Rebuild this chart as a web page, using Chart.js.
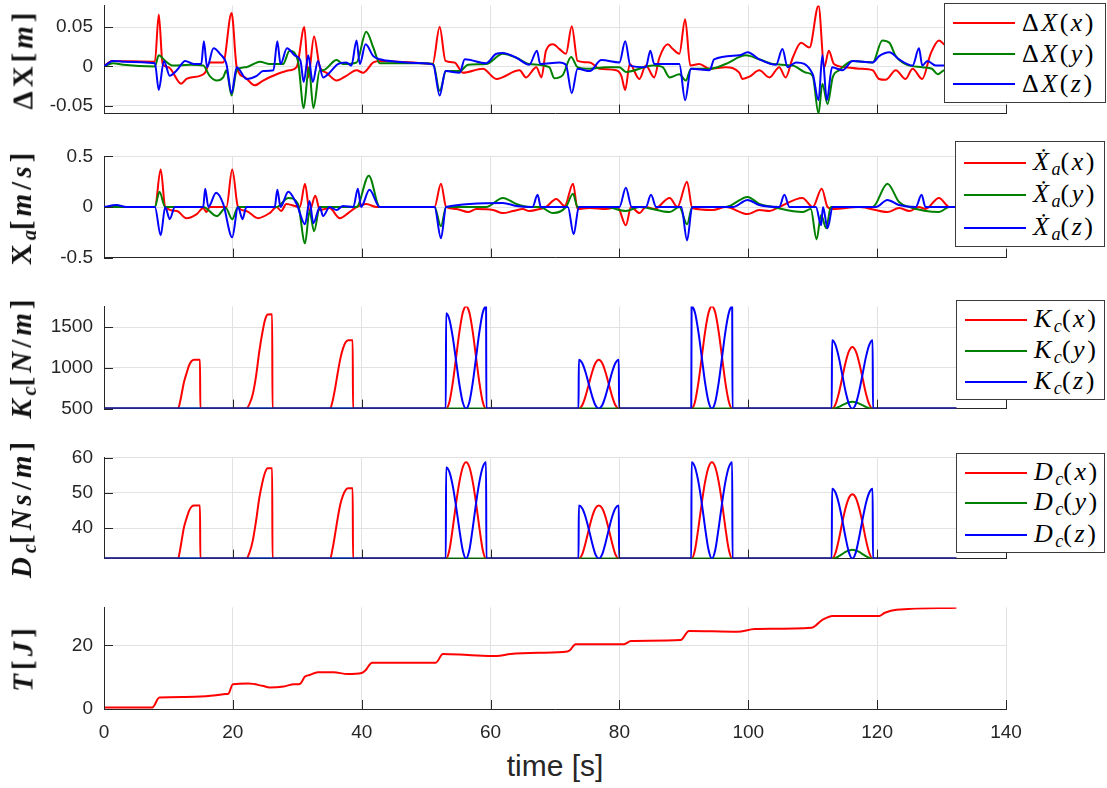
<!DOCTYPE html>
<html>
<head>
<meta charset="utf-8">
<title>Adaptive impedance run</title>
<script src="https://cdn.jsdelivr.net/npm/chart.js@4"></script>
<style>
  body { margin: 0; background: #fff; width: 1107px; height: 788px; position: relative; overflow: hidden;
         font-family: "Liberation Sans", Arial, sans-serif; color: #262626; }
  .panel { position: absolute; left: 0; width: 1107px; }
  .ylab { position: absolute; left: 23px; transform: translate(-50%, -50%) rotate(-90deg); white-space: nowrap;
          font-family: "Liberation Serif", serif; font-weight: bold; font-size: 29px; letter-spacing: 4px; color: #111; }
  .legend { position: absolute; background: #fff; border: 1px solid #3a3a3a; box-sizing: border-box; }
  .legend .row { position: absolute; left: 8px; height: 30px; display: flex; align-items: center; }
  .legend .sw { width: 62px; height: 2px; }
  .legend .tx { margin-left: 7px; font-family: "Liberation Serif", serif; font-size: 26px; letter-spacing: 2.5px; color: #000; white-space: nowrap; }
  sub { font-size: 0.7em; vertical-align: -0.25em; letter-spacing: 0; }
  #xtitle { position: absolute; left: 555px; top: 751px; transform: translateX(-50%); font-size: 30px; line-height: 30px; color: #262626; }
</style>
</head>
<body>
<div id="xtitle">time [s]</div>
<script>
// shared time axis
const xTicks = [0, 20, 40, 60, 80, 100, 120, 140];

// ---- panel 1: position error dX [m] ----
const dxRed = [[0,0],[1.2,0.007],[7.9,0.006],[8.5,0.066],[9.1,0.003],[10,-0.001],[12,-0.022],[12.8,-0.016],[14.9,-0.012],[15.7,-0.008],
  [16.4,0.005],[18.5,0.005],[19.8,0.068],[20.6,-0.001],[21.9,-0.014],[23.4,-0.024],[24.7,-0.018],[26.8,-0.010],[28.8,-0.005],[29.9,-0.001],
  [31.1,0.050],[31.7,-0.014],[32.6,0.038],[33.5,-0.001],[34.5,-0.008],[36.1,-0.018],[37.6,-0.012],[39.2,-0.005],[40.2,-0.008],[41.8,0.005],
  [42.8,0.007],[49.5,0.004],[51,0.003],[52.1,0.050],[53,0.007],[54.4,0.005],[55.7,-0.008],[58.8,-0.003],[60.9,-0.016],[64.5,-0.005],
  [65.5,-0.014],[67.1,-0.001],[67.9,-0.014],[68.6,0.020],[69.7,0.028],[70.7,0.022],[71.7,0.016],[72.6,0.051],[73.5,0.007],[75.4,0.005],
  [76.9,-0.003],[79.5,-0.005],[80.3,-0.012],[80.9,-0.030],[81.6,0.003],[83.1,-0.016],[84.1,0.001],[85.4,-0.014],[86.2,0.011],[87.5,0.028],
  [88.3,0.022],[89.3,0.016],[90.2,0.060],[91,0.001],[92.4,0.003],[94,-0.003],[96.5,-0.001],[98.6,-0.008],[99.1,-0.016],[100.2,-0.013],
  [101.7,-0.005],[103.3,-0.014],[104.8,-0.001],[105.8,-0.014],[106.9,0.011],[108.2,0.030],[109.5,0.024],[110.9,0.077],[111.8,-0.001],
  [112.5,0.020],[113.3,0.003],[115.1,-0.001],[117.2,-0.003],[119.3,-0.005],[120.3,-0.016],[121.3,-0.017],[122.9,-0.005],[124.4,-0.016],
  [125.5,-0.003],[127,-0.016],[128.3,0.016],[129.6,0.033],[130.4,0.028],[131.3,0.024],[132.3,0.030]];
const dxGreen = [[0,0],[1.4,0.004],[3,0.002],[7.9,0],[8.5,0.014],[9.5,0.007],[10.7,0.001],[13.3,0.002],[15.4,0.001],[16.4,-0.012],
  [17.5,-0.018],[18.5,-0.014],[19,-0.005],[19.8,-0.037],[20.6,-0.005],[22.1,-0.001],[24.2,0.006],[25.7,0.003],[27.8,0.003],[28.8,0.020],
  [30.1,0.007],[31,-0.053],[31.8,-0.001],[32.5,-0.053],[33.5,-0.005],[34,-0.005],[36.1,0.008],[37.1,0.003],[39.2,0.005],[40.7,0.044],
  [41.8,0.024],[42.8,0.004],[49.5,0.004],[51.1,0.003],[52.1,-0.031],[53.1,-0.006],[55.2,-0.006],[56.5,0.002],[59.3,0.003],[61.9,0.016],
  [64,0.011],[66,0.003],[69.1,-0.001],[69.9,-0.015],[71.2,-0.011],[72.5,0.012],[73.5,-0.001],[75.4,-0.003],[77.9,-0.001],[80,-0.001],
  [81,-0.007],[85.2,0.001],[86.7,-0.001],[87.8,-0.014],[89.3,-0.010],[90.3,-0.018],[91.1,-0.003],[94,-0.003],[96.5,0.003],[99.6,0.014],
  [101.7,0.009],[103.8,0.003],[106.9,0.001],[109,-0.008],[110,-0.012],[110.9,-0.060],[111.5,-0.022],[112.3,-0.048],[113.1,-0.014],
  [114.1,-0.005],[116.2,0.007],[119.3,0.005],[120.8,0.033],[121.9,0.030],[122.9,0.013],[124.4,0.003],[127,-0.001],[128.5,-0.003],
  [129.4,-0.010],[130.4,-0.005],[132.3,-0.004]];
const dxBlue = [[0,0],[1.4,0.007],[3,0.006],[7.9,0.004],[8.5,-0.030],[9.3,0.007],[10.2,-0.012],[11.3,-0.005],[12.6,0.007],[13.9,0.003],
  [15.1,0.003],[15.5,0.032],[16,-0.001],[17,0.023],[18,0.016],[19,0.003],[19.8,-0.034],[20.6,-0.001],[22.1,-0.016],[23.7,-0.012],
  [24.7,-0.006],[26.3,-0.005],[26.9,0.032],[27.4,0.003],[28.4,0.023],[29.6,0.014],[30.5,0.007],[31,-0.020],[31.7,0.014],[32.4,-0.020],
  [33.2,0.007],[34,-0.014],[35,-0.008],[36.3,0.003],[37.6,0.005],[38.4,0.001],[39.2,0.033],[39.7,0.003],[40.6,0.028],[41.8,0.013],
  [42.8,0.009],[45.4,0.006],[49.5,0.004],[51.1,0.002],[52.1,-0.037],[53,-0.006],[55.2,-0.008],[56,0.009],[59.3,0.004],[60.9,0.016],
  [61.9,0.017],[64,0.011],[66,0.002],[67.2,0.020],[67.7,0.003],[70.7,0.005],[71.7,0.002],[72.6,-0.034],[73.5,-0.003],[75.4,-0.006],
  [77.2,0.008],[80,0.005],[80.9,0.032],[81.7,0.001],[84.1,-0.001],[84.8,0.020],[85.4,0.003],[89.3,0.003],[90.2,-0.043],[91.1,-0.003],
  [94,-0.005],[94.7,0.009],[98.6,0.014],[99.9,0.018],[101.7,0.009],[104.3,0.002],[105.3,0.022],[106.1,-0.001],[107.4,0.005],[110,-0.010],
  [110.9,-0.043],[111.5,0.014],[112.2,-0.043],[113,-0.001],[114.6,-0.005],[116.2,0.007],[119.3,0.005],[120.3,0.013],[121.9,0.018],
  [123.4,0.009],[125.5,0.001],[126.5,0.023],[127,0.001],[127.8,0.007],[129.1,0.001],[130.4,0.001],[132.3,0.002]];
const dxTicks = [-0.05, 0, 0.05];
const dxLabels = ['-0.05', '0', '0.05'];

// ---- panel 2: velocity Xa [m/s] ----
const vaRed = [[0,0],[7.9,0],[8.8,0.37],[9.5,0],[11.3,-0.04],[12.8,-0.11],[14.4,-0.07],[15.4,-0.01],[15.9,-0.05],[16.4,0],[19,0],
  [19.9,0.37],[20.8,0],[22.1,-0.04],[23.9,-0.11],[25.7,-0.06],[26.8,0],[27.5,-0.04],[28.3,0.03],[30.4,0],[31.2,0.23],[31.9,-0.04],
  [32.8,0.11],[33.5,-0.03],[35,-0.01],[36.6,-0.11],[37.9,-0.06],[39.2,0],[40.7,0.03],[42.3,0],[51.3,0],[52.3,0.23],[53.1,0],[54.7,-0.02],
  [56.5,-0.05],[57.8,-0.02],[60.4,-0.03],[61.9,-0.06],[63.5,-0.04],[65,-0.02],[66,-0.04],[67.6,-0.02],[68.6,0],[70.2,0.08],[71.5,0.01],
  [72.8,0.23],[73.5,-0.02],[75.4,-0.01],[77.9,-0.02],[79.7,0],[81,-0.18],[81.8,0],[83.1,-0.06],[84.1,0],[85.4,-0.02],[87.8,0.09],[89,0],
  [90.5,0.25],[91.3,-0.01],[94.5,-0.03],[96.5,0],[99.9,-0.07],[101.7,-0.03],[103.3,-0.04],[104.8,0],[108.4,0.09],[110,0],[111.4,0.18],
  [112.3,0],[113.1,-0.02],[117.2,0],[121.6,-0.05],[123.4,-0.01],[125,-0.04],[126.5,0],[127.5,-0.02],[129.6,0.09],[131.2,0],[132.3,0]];
const vaGreen = [[0,0],[7.9,0],[8.6,0.15],[9.5,0],[15.4,0],[17.5,-0.09],[18.9,-0.01],[19.9,-0.12],[20.8,0],[26.8,0],[28.6,0.09],
  [30.1,0.03],[31.2,-0.36],[31.9,-0.04],[32.6,-0.24],[33.5,0],[39.2,0],[41.1,0.31],[42.8,0],[51.3,0],[52.3,-0.19],[53.1,0],[59.3,0],
  [61.9,0.09],[64,0.03],[66,0],[67.6,0],[69.7,-0.06],[71.7,0],[72.8,0.13],[73.5,0],[77.9,0],[81,-0.04],[83.1,0],[87.8,-0.05],[89.3,0],
  [90.5,-0.17],[91.3,0],[96.5,0],[99.9,0.10],[101.7,0.03],[103.8,0],[108.4,-0.05],[109.7,-0.02],[110.6,-0.32],[111.3,-0.08],[112.1,-0.21],
  [112.8,0],[119.3,0],[121.6,0.23],[123.4,0.05],[125,0],[129.6,-0.05],[131.2,0],[132.3,0]];
const vaBlue = [[0,0],[1.9,0.02],[3.5,0],[7.9,0],[8.8,-0.28],[9.5,0],[10.2,-0.12],[11,0],[15.4,0],[15.7,0.18],[16.2,0],[17.4,0.14],
  [18.5,0.03],[19.9,-0.30],[20.8,0],[21.5,-0.12],[22.1,0],[26.5,0],[26.9,0.17],[27.4,0],[28.6,0.15],[29.9,0.03],[31.2,-0.17],[31.9,0.06],
  [32.5,-0.16],[33.5,0],[34,-0.09],[35,0],[36.1,-0.03],[37.1,0.01],[38.7,0],[39.4,0.18],[39.9,0],[41.2,0.17],[42.8,0],[51.3,0],[52.3,-0.31],
  [53.1,0],[61.9,0.04],[64,0.01],[66.5,0],[67.3,0.12],[67.8,0],[72,0],[72.9,-0.27],[73.7,0],[80,0],[81,0.19],[81.9,0],[84.1,0],[84.9,0.12],
  [85.7,0],[89.6,0],[90.5,-0.33],[91.3,0],[97.6,0],[99.9,0.07],[101.7,0.02],[104.8,0],[105.6,0.12],[106.4,0],[110.5,0],[111.3,-0.18],
  [111.6,0],[112.3,-0.21],[113.1,0],[119.8,0],[121.6,0.07],[123.4,0.02],[126,0],[126.9,0.12],[127.5,0],[132.3,0]];
const vaTicks = [-0.5, 0, 0.5];
const vaLabels = ['-0.5', '0', '0.5'];

// ---- panel 3: stiffness Kc [N/m] ----
const kcRed = [[0,500],[11.5,500],[11.8,580],[12.1,700],[12.4,820],[12.8,930],[13.2,1030],[13.6,1085],[14,1100],[14.9,1100],[14.95,500],
  [22.1,500],[22.6,560],[23.1,680],[23.6,900],[24.1,1200],[24.6,1440],[25,1590],[25.4,1655],[26.1,1660],[26.15,500],
  [35.1,500],[35.5,600],[35.9,760],[36.3,950],[36.7,1120],[37.1,1240],[37.5,1315],[37.9,1340],[38.6,1340],[38.65,500],
  [53.1,500],[53.62,584],[54.13,815],[54.65,1130],[55.17,1445],[55.68,1676],[56.2,1760],[56.72,1676],[57.23,1445],[57.75,1130],[58.27,815],[58.78,584],[59.3,500],
  [73.7,500],[74.22,540],[74.73,650],[75.25,800],[75.77,950],[76.28,1060],[76.8,1100],[77.32,1060],[77.83,950],[78.35,800],[78.87,650],[79.38,540],[79.9,500],
  [91.2,500],[91.73,584],[92.25,815],[92.78,1130],[93.3,1445],[93.83,1676],[94.35,1760],[94.88,1676],[95.4,1445],[95.93,1130],[96.45,815],[96.98,584],[97.5,500],
  [113,500],[113.53,551],[114.05,689],[114.58,878],[115.1,1067],[115.63,1205],[116.15,1256],[116.68,1205],[117.2,1067],[117.73,878],[118.25,689],[118.78,551],[119.3,500],
  [132.3,500]];
const kcGreen = [[0,500],[113,500],[113.53,506],[114.05,521],[114.58,542],[115.1,562],[115.63,577],[116.15,583],[116.68,577],[117.2,562],
  [117.73,542],[118.25,521],[118.78,506],[119.3,500],[132.3,500]];
const kcBlue = [[0,500],[53.05,500],[53.1,1670],[53.62,1592],[54.13,1378],[54.65,1085],[55.17,793],[55.68,578],[56.2,500],[56.72,584],
  [57.23,815],[57.75,1130],[58.27,1445],[58.78,1676],[59.3,1760],[59.35,500],
  [73.65,500],[73.7,1100],[74.22,1060],[74.73,950],[75.25,800],[75.77,650],[76.28,540],[76.8,500],[77.32,540],[77.83,650],[78.35,800],
  [78.87,950],[79.38,1060],[79.9,1100],[79.95,500],
  [91.15,500],[91.2,1760],[91.73,1676],[92.25,1445],[92.78,1130],[93.3,815],[93.83,584],[94.35,500],[94.88,584],[95.4,815],[95.93,1130],
  [96.45,1445],[96.98,1676],[97.5,1760],[97.55,500],
  [112.95,500],[113,1338],[113.53,1282],[114.05,1129],[114.58,919],[115.1,710],[115.63,556],[116.15,500],[116.68,556],[117.2,710],
  [117.73,919],[118.25,1129],[118.78,1282],[119.3,1338],[119.35,500],[132.3,500]];
const kcTicks = [500, 1000, 1500];
const kcLabels = ['500', '1000', '1500'];

// ---- panel 4: damping Dc [Ns/m] ----
const dcRed = [[0,31.3],[11.5,31.3],[11.8,33.7],[12.1,37.0],[12.4,40.1],[12.8,42.7],[13.2,44.9],[13.6,46.1],[14,46.4],[14.9,46.4],[14.95,31.3],
  [22.1,31.3],[22.6,33.1],[23.1,36.5],[23.6,42.0],[24.1,48.5],[24.6,53.1],[25,55.8],[25.4,57.0],[26.1,57.0],[26.15,31.3],
  [35.1,31.3],[35.5,34.3],[35.9,38.6],[36.3,43.1],[36.7,46.9],[37.1,49.3],[37.5,50.8],[37.9,51.3],[38.6,51.3],[38.65,31.3],
  [53.1,31.3],[53.62,33.8],[54.13,40.0],[54.65,47.1],[55.17,53.2],[55.68,57.3],[56.2,58.7],[56.72,57.3],[57.23,53.2],[57.75,47.1],[58.27,40.0],[58.78,33.8],[59.3,31.3],
  [73.7,31.3],[74.22,32.5],[74.73,35.7],[75.25,39.6],[75.77,43.2],[76.28,45.6],[76.8,46.4],[77.32,45.6],[77.83,43.2],[78.35,39.6],[78.87,35.7],[79.38,32.5],[79.9,31.3],
  [91.2,31.3],[91.73,33.8],[92.25,40.0],[92.78,47.1],[93.3,53.2],[93.83,57.3],[94.35,58.7],[94.88,57.3],[95.4,53.2],[95.93,47.1],[96.45,40.0],[96.98,33.8],[97.5,31.3],
  [113,31.3],[113.53,32.9],[114.05,36.7],[114.58,41.5],[115.1,45.7],[115.63,48.6],[116.15,49.6],[116.68,48.6],[117.2,45.7],[117.73,41.5],[118.25,36.7],[118.78,32.9],[119.3,31.3],
  [132.3,31.3]];
const dcGreen = [[0,31.3],[113,31.3],[113.53,31.5],[114.05,32.0],[114.58,32.6],[115.1,33.2],[115.63,33.6],[116.15,33.8],[116.68,33.6],
  [117.2,33.2],[117.73,32.6],[118.25,32.0],[118.78,31.5],[119.3,31.3],[132.3,31.3]];
const dcBlue = [[0,31.3],[53.05,31.3],[53.1,57.2],[53.62,55.9],[54.13,52.0],[54.65,46.1],[55.17,39.4],[55.68,33.7],[56.2,31.3],[56.72,33.8],
  [57.23,40.0],[57.75,47.1],[58.27,53.2],[58.78,57.3],[59.3,58.7],[59.35,31.3],
  [73.65,31.3],[73.7,46.4],[74.22,45.6],[74.73,43.2],[75.25,39.6],[75.77,35.7],[76.28,32.5],[76.8,31.3],[77.32,32.5],[77.83,35.7],[78.35,39.6],
  [78.87,43.2],[79.38,45.6],[79.9,46.4],[79.95,31.3],
  [91.15,31.3],[91.2,58.7],[91.73,57.3],[92.25,53.2],[92.78,47.1],[93.3,40.0],[93.83,33.8],[94.35,31.3],[94.88,33.8],[95.4,40.0],[95.93,47.1],
  [96.45,53.2],[96.98,57.3],[97.5,58.7],[97.55,31.3],
  [112.95,31.3],[113,51.2],[113.53,50.1],[114.05,47.0],[114.58,42.4],[115.1,37.3],[115.63,33.0],[116.15,31.3],[116.68,33.0],[117.2,37.3],
  [117.73,42.4],[118.25,47.0],[118.78,50.1],[119.3,51.2],[119.35,31.3],[132.3,31.3]];
const dcTicks = [40, 50, 60];
const dcLabels = ['40', '50', '60'];

// ---- panel 5: energy T [J] ----
const energy = [[0,0.5],[7.5,0.5],[8.6,3.6],[12.5,3.75],[15.8,4.0],[17.4,4.3],[18.9,4.7],[19.3,4.8],[20,7.8],[22.4,8.0],[24.6,7.3],
  [25.7,6.8],[27.9,7.1],[29.5,7.8],[30.4,7.9],[31.2,10.2],[31.9,10.7],[33.2,11.6],[35.6,11.6],[37.8,11.0],[40,11.35],[40.6,12.2],
  [41.6,14.6],[51.5,14.6],[52.6,17.3],[56.5,17.0],[60.9,16.7],[63.1,17.3],[67.5,17.7],[71.9,18.1],[72.3,18.5],[73.2,20.4],[80.7,20.4],
  [81.8,21.4],[89.5,21.7],[90.8,24.6],[98.3,24.3],[101,25.2],[109.8,25.6],[111.5,28.1],[113.1,29.3],[120.3,29.3],[121.2,30.3],
  [123,31.25],[132.3,31.9]];
const enTicks = [0, 20];
const enLabels = ['0', '20'];

const RED = '#ff0000', GREEN = '#008000', BLUE = '#0000ff';
const axisColor = '#262626', gridColor = '#e2e2e2';
const tickFont = { family: '"Liberation Sans", Arial, sans-serif', size: 19 };

const panels = [
  { top: 5,   h: 108, min: -0.06, max: 0.0775, ticks: dxTicks, labels: dxLabels, series: [dxRed, dxGreen, dxBlue],
    ylab: 'ΔX[<i>m</i>]', legend: ['Δ<i>X</i>(<i>x</i>)', 'Δ<i>X</i>(<i>y</i>)', 'Δ<i>X</i>(<i>z</i>)'],
    box: { left: 944, top: 3, w: 162, h: 100, rows: [19, 50, 80] } },
  { top: 156, h: 101, min: -0.5, max: 0.5, ticks: vaTicks, labels: vaLabels, series: [vaRed, vaGreen, vaBlue],
    ylab: 'X<sub><i>a</i></sub>[<i>m</i>/<i>s</i>]',
    legend: ['<i>Ẋ</i><sub><i>a</i></sub>(<i>x</i>)', '<i>Ẋ</i><sub><i>a</i></sub>(<i>y</i>)', '<i>Ẋ</i><sub><i>a</i></sub>(<i>z</i>)'],
    box: { left: 955, top: 141, w: 150, h: 106, rows: [21, 53, 86] } },
  { top: 306, h: 102, min: 500, max: 1755, ticks: kcTicks, labels: kcLabels, series: [kcRed, kcGreen, kcBlue],
    ylab: '<i>K</i><sub><i>c</i></sub>[<i>N</i>/<i>m</i>]',
    legend: ['<i>K</i><sub><i>c</i></sub>(<i>x</i>)', '<i>K</i><sub><i>c</i></sub>(<i>y</i>)', '<i>K</i><sub><i>c</i></sub>(<i>z</i>)'],
    box: { left: 956, top: 300, w: 149, h: 100, rows: [19, 50, 81] } },
  { top: 457, h: 101, min: 31.3, max: 60.1, ticks: dcTicks, labels: dcLabels, series: [dcRed, dcGreen, dcBlue],
    ylab: '<i>D</i><sub><i>c</i></sub>[<i>N</i><i>s</i>/<i>m</i>]',
    legend: ['<i>D</i><sub><i>c</i></sub>(<i>x</i>)', '<i>D</i><sub><i>c</i></sub>(<i>y</i>)', '<i>D</i><sub><i>c</i></sub>(<i>z</i>)'],
    box: { left: 956, top: 453, w: 149, h: 100, rows: [19, 49, 81] } },
  { top: 607, h: 102, min: 0, max: 32, ticks: enTicks, labels: enLabels, series: [energy],
    ylab: '<i>T</i>[<i>J</i>]', legend: null, last: true }
];

// MATLAB-style tick marks pointing into the axes
const innerTicks = {
  id: 'innerTicks',
  afterDatasetsDraw(chart) {
    const { ctx, chartArea: a, scales: { x, y } } = chart;
    ctx.save();
    ctx.strokeStyle = axisColor;
    ctx.lineWidth = 1;
    ctx.beginPath();
    y.ticks.forEach(t => {
      const py = Math.round(y.getPixelForValue(t.value)) + 0.5;
      ctx.moveTo(a.left, py); ctx.lineTo(a.left + 9, py);
    });
    x.ticks.forEach(t => {
      const px = Math.round(x.getPixelForValue(t.value)) + 0.5;
      ctx.moveTo(px, a.bottom); ctx.lineTo(px, a.bottom - 9);
    });
    ctx.stroke();
    ctx.restore();
  }
};

const colors = [RED, GREEN, BLUE];

function chartConfig(p, xHeight) {
  return {
    type: 'line',
    data: {
      datasets: p.series.map((s, i) => ({
        data: s.map(([x, y]) => ({ x, y })),
        borderColor: colors[i], borderWidth: 2, pointRadius: 0, fill: false,
        cubicInterpolationMode: 'monotone', order: 3 - i
      }))
    },
    options: {
      responsive: false, animation: false, events: [],
      layout: { padding: { top: 0, bottom: 0, left: 0, right: 1107 - 1006 } },
      plugins: { legend: { display: false }, tooltip: { enabled: false } },
      scales: {
        x: {
          type: 'linear', min: 0, max: 140,
          afterBuildTicks: s => { s.ticks = xTicks.map(v => ({ value: v })); },
          afterFit: s => { s.height = xHeight; },
          grid: { color: gridColor, drawTicks: false },
          border: { display: true, color: axisColor, width: 1 },
          ticks: { display: !!p.last, padding: 12, font: tickFont, color: axisColor, maxRotation: 0, autoSkip: false,
                   callback: v => String(v) }
        },
        y: {
          type: 'linear', min: p.min, max: p.max,
          afterBuildTicks: s => { s.ticks = p.ticks.map(v => ({ value: v })); },
          afterFit: s => { s.width = 104; },
          grid: { color: gridColor, drawTicks: false },
          border: { display: true, color: axisColor, width: 1 },
          ticks: { padding: 11, font: tickFont, color: axisColor, callback: v => p.labels[p.ticks.indexOf(v)] }
        }
      }
    },
    plugins: [innerTicks]
  };
}

panels.forEach(p => {
  const xHeight = p.last ? 79 : 0;
  const div = document.createElement('div');
  div.className = 'panel';
  document.body.appendChild(div);

  // first pass: find how much room the library keeps above and below the plot area
  let cv = document.createElement('canvas');
  cv.width = 1107; cv.height = 300;
  div.appendChild(cv);
  let ch = new Chart(cv, chartConfig(p, xHeight));
  const above = ch.chartArea.top, below = 300 - ch.chartArea.bottom;
  ch.destroy();
  div.removeChild(cv);

  // second pass: size the canvas so the plot area lands where it should
  const H = Math.round(above + p.h + below);
  div.style.top = Math.round(p.top - above) + 'px';
  div.style.height = H + 'px';
  cv = document.createElement('canvas');
  cv.width = 1107; cv.height = H;
  div.appendChild(cv);
  new Chart(cv, chartConfig(p, xHeight));

  const yl = document.createElement('div');
  yl.className = 'ylab';
  yl.style.top = (p.top + p.h / 2) + 'px';
  yl.innerHTML = p.ylab;
  document.body.appendChild(yl);

  if (p.legend) {
    const b = p.box;
    const lg = document.createElement('div');
    lg.className = 'legend';
    Object.assign(lg.style, { left: b.left + 'px', top: b.top + 'px', width: b.w + 'px', height: b.h + 'px' });
    p.legend.forEach((txt, i) => {
      const row = document.createElement('div');
      row.className = 'row';
      row.style.top = (b.rows[i] - 15) + 'px';
      row.innerHTML = `<div class="sw" style="background:${colors[i]}"></div><span class="tx">${txt}</span>`;
      lg.appendChild(row);
    });
    document.body.appendChild(lg);
  }
});
</script>
</body>
</html>
